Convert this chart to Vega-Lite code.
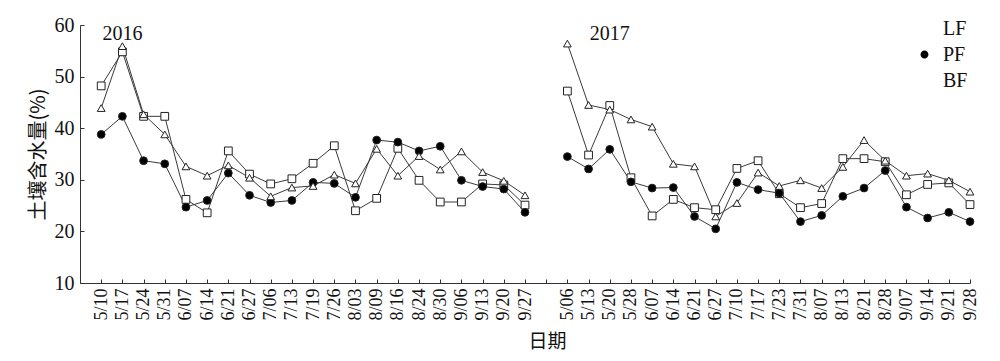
{
  "$schema": "https://vega.github.io/schema/vega-lite/v6.json",
  "autosize": {"type": "none"},
  "padding": {"left": 80, "top": 25, "right": 30, "bottom": 78},
  "width": 890,
  "height": 258,
  "background": "white",
  "config": {
    "view": {"stroke": null},
    "font": "Liberation Serif"
  },
  "datasets": {
    "soil": [
      {"x": "2016 5/10", "year": 2016, "LF": 48.2, "PF": 38.8, "BF": 43.9},
      {"x": "2016 5/17", "year": 2016, "LF": 54.8, "PF": 42.3, "BF": 55.9},
      {"x": "2016 5/24", "year": 2016, "LF": 42.3, "PF": 33.7, "BF": 42.7},
      {"x": "2016 5/31", "year": 2016, "LF": 42.3, "PF": 33.1, "BF": 38.8},
      {"x": "2016 6/07", "year": 2016, "LF": 26.2, "PF": 24.7, "BF": 32.6},
      {"x": "2016 6/14", "year": 2016, "LF": 23.6, "PF": 26.0, "BF": 30.8},
      {"x": "2016 6/21", "year": 2016, "LF": 35.6, "PF": 31.3, "BF": 32.8},
      {"x": "2016 6/27", "year": 2016, "LF": 31.1, "PF": 27.0, "BF": 30.4},
      {"x": "2016 7/06", "year": 2016, "LF": 29.2, "PF": 25.6, "BF": 26.8},
      {"x": "2016 7/13", "year": 2016, "LF": 30.2, "PF": 26.0, "BF": 28.5},
      {"x": "2016 7/19", "year": 2016, "LF": 33.2, "PF": 29.5, "BF": 28.8},
      {"x": "2016 7/26", "year": 2016, "LF": 36.6, "PF": 29.3, "BF": 31.0},
      {"x": "2016 8/03", "year": 2016, "LF": 24.0, "PF": 26.6, "BF": 29.3},
      {"x": "2016 8/09", "year": 2016, "LF": 26.4, "PF": 37.7, "BF": 36.0},
      {"x": "2016 8/16", "year": 2016, "LF": 36.1, "PF": 37.3, "BF": 30.8},
      {"x": "2016 8/24", "year": 2016, "LF": 29.9, "PF": 35.6, "BF": 34.6},
      {"x": "2016 8/30", "year": 2016, "LF": 25.7, "PF": 36.5, "BF": 32.0},
      {"x": "2016 9/06", "year": 2016, "LF": 25.7, "PF": 29.9, "BF": 35.5},
      {"x": "2016 9/13", "year": 2016, "LF": 29.2, "PF": 28.7, "BF": 31.5},
      {"x": "2016 9/20", "year": 2016, "LF": 29.0, "PF": 28.2, "BF": 29.8},
      {"x": "2016 9/27", "year": 2016, "LF": 25.1, "PF": 23.7, "BF": 27.0},
      {"x": "2017 5/06", "year": 2017, "LF": 47.2, "PF": 34.5, "BF": 56.4},
      {"x": "2017 5/13", "year": 2017, "LF": 34.8, "PF": 32.1, "BF": 44.5},
      {"x": "2017 5/20", "year": 2017, "LF": 44.4, "PF": 35.9, "BF": 43.6},
      {"x": "2017 5/28", "year": 2017, "LF": 30.4, "PF": 29.6, "BF": 41.7},
      {"x": "2017 6/07", "year": 2017, "LF": 23.0, "PF": 28.4, "BF": 40.3},
      {"x": "2017 6/14", "year": 2017, "LF": 26.2, "PF": 28.5, "BF": 33.1},
      {"x": "2017 6/21", "year": 2017, "LF": 24.6, "PF": 22.9, "BF": 32.6},
      {"x": "2017 6/27", "year": 2017, "LF": 24.2, "PF": 20.5, "BF": 22.9},
      {"x": "2017 7/10", "year": 2017, "LF": 32.2, "PF": 29.5, "BF": 25.5},
      {"x": "2017 7/17", "year": 2017, "LF": 33.7, "PF": 28.1, "BF": 31.4},
      {"x": "2017 7/23", "year": 2017, "LF": 27.3, "PF": 27.4, "BF": 28.8},
      {"x": "2017 7/31", "year": 2017, "LF": 24.6, "PF": 21.9, "BF": 29.9},
      {"x": "2017 8/07", "year": 2017, "LF": 25.4, "PF": 23.1, "BF": 28.4},
      {"x": "2017 8/13", "year": 2017, "LF": 34.1, "PF": 26.8, "BF": 32.5},
      {"x": "2017 8/21", "year": 2017, "LF": 34.1, "PF": 28.4, "BF": 37.7},
      {"x": "2017 8/28", "year": 2017, "LF": 33.5, "PF": 31.8, "BF": 33.7},
      {"x": "2017 9/07", "year": 2017, "LF": 27.1, "PF": 24.7, "BF": 30.8},
      {"x": "2017 9/14", "year": 2017, "LF": 29.1, "PF": 22.6, "BF": 31.2},
      {"x": "2017 9/21", "year": 2017, "LF": 29.4, "PF": 23.7, "BF": 29.9},
      {"x": "2017 9/28", "year": 2017, "LF": 25.2, "PF": 21.9, "BF": 27.7}
    ],
    "years": [
      {"x": "2016 5/17", "v": 58.3, "t": "2016"},
      {"x": "2017 5/20", "v": 58.3, "t": "2017"}
    ]
  },
  "encoding": {
    "x": {
      "field": "x",
      "type": "ordinal",
      "scale": {
        "type": "point",
        "padding": 0,
        "domain": ["_a", "2016 5/10", "2016 5/17", "2016 5/24", "2016 5/31", "2016 6/07", "2016 6/14", "2016 6/21", "2016 6/27", "2016 7/06", "2016 7/13", "2016 7/19", "2016 7/26", "2016 8/03", "2016 8/09", "2016 8/16", "2016 8/24", "2016 8/30", "2016 9/06", "2016 9/13", "2016 9/20", "2016 9/27", "_b", "2017 5/06", "2017 5/13", "2017 5/20", "2017 5/28", "2017 6/07", "2017 6/14", "2017 6/21", "2017 6/27", "2017 7/10", "2017 7/17", "2017 7/23", "2017 7/31", "2017 8/07", "2017 8/13", "2017 8/21", "2017 8/28", "2017 9/07", "2017 9/14", "2017 9/21", "2017 9/28"]
      },
      "axis": {
        "title": "日期",
        "titleFont": "Noto Sans CJK SC",
        "titleFontSize": 19,
        "titleFontWeight": "normal",
        "titleColor": "#111",
        "titleX": 467,
        "titleY": 58,
        "titleBaseline": "middle",
        "labelExpr": "indexof(datum.value, '_') == 0 ? '' : slice(datum.value, 5)",
        "labelAngle": -90,
        "labelFontSize": 18,
        "labelColor": "#111",
        "labelPadding": 9,
        "tickSize": -4,
        "tickColor": "#333",
        "domainColor": "#333",
        "grid": false
      }
    }
  },
  "layer": [
    {
      "data": {"name": "soil"},
      "transform": [{"fold": ["LF", "PF", "BF"], "as": ["s", "v"]}],
      "mark": {"type": "line", "strokeWidth": 1, "color": "#3a3a3a"},
      "encoding": {
        "y": {
          "field": "v",
          "type": "quantitative",
          "scale": {"domain": [10, 60], "nice": false, "zero": false},
          "axis": {
            "title": "土壤含水量(%)",
            "titleFont": "Noto Sans CJK SC",
            "titleFontSize": 20,
            "titleFontWeight": "normal",
            "titleColor": "#111",
            "titlePadding": 6,
            "values": [10, 20, 30, 40, 50, 60],
            "labelFontSize": 20,
            "labelColor": "#111",
            "labelPadding": 10,
            "tickSize": -4,
            "tickColor": "#333",
            "domainColor": "#333",
            "grid": false
          }
        },
        "detail": [{"field": "s", "type": "nominal"}, {"field": "year", "type": "nominal"}]
      }
    },
    {
      "data": {"name": "soil"},
      "transform": [{"fold": ["LF", "PF", "BF"], "as": ["s", "v"]}],
      "mark": {"type": "point", "filled": false, "stroke": "#222", "strokeWidth": 1, "opacity": 1, "size": 60},
      "encoding": {
        "y": {"field": "v", "type": "quantitative"},
        "shape": {
          "field": "s",
          "type": "nominal",
          "scale": {"domain": ["LF", "PF", "BF"], "range": ["square", "circle", "triangle-up"]},
          "legend": null
        },
        "fill": {
          "field": "s",
          "type": "nominal",
          "scale": {"domain": ["LF", "PF", "BF"], "range": ["white", "black", "white"]},
          "legend": null
        }
      }
    },
    {
      "data": {"name": "soil"},
      "transform": [{"fold": ["LF", "PF", "BF"], "as": ["s", "v"]}, {"filter": "datum.v < 0"}],
      "mark": {"type": "point", "filled": false, "stroke": "#333", "strokeWidth": 1, "opacity": 1, "size": 576},
      "encoding": {
        "y": {"field": "v", "type": "quantitative"},
        "shape": {
          "field": "s",
          "type": "nominal",
          "scale": {
            "domain": ["LF", "PF", "BF"],
            "range": [
              "M-1,0H-0.33M-0.33,-0.33H0.33V0.33H-0.33ZM0.33,0H1",
              "M-1,0H-0.33M0.33,0A0.33,0.33 0 1,1 -0.33,0A0.33,0.33 0 1,1 0.33,0ZM0.33,0H1",
              "M-1,0H-0.42M0,-0.42L0.42,0.3H-0.42ZM0.42,0H1"
            ]
          },
          "legend": {
            "title": null,
            "orient": "none",
            "legendX": 832,
            "legendY": -9,
            "symbolSize": 576,
            "symbolStrokeColor": "#333",
            "symbolStrokeWidth": 1,
            "labelFontSize": 20,
            "labelColor": "#111",
            "labelOffset": 6,
            "rowPadding": 3,
            "encode": {
              "symbols": {
                "update": {
                  "fill": {"signal": "datum.value == 'PF' ? 'black' : 'white'"},
                  "stroke": {"value": "#333"},
                  "strokeWidth": {"value": 1}
                }
              }
            }
          }
        },
        "fill": {
          "field": "s",
          "type": "nominal",
          "scale": {"domain": ["LF", "PF", "BF"], "range": ["white", "black", "white"]},
          "legend": null
        }
      }
    },
    {
      "data": {"name": "years"},
      "mark": {"type": "text", "fontSize": 20, "font": "Liberation Serif", "color": "#111", "baseline": "middle", "align": "center"},
      "encoding": {
        "y": {"field": "v", "type": "quantitative"},
        "text": {"field": "t"}
      }
    }
  ],
  "resolve": {"scale": {"shape": "independent", "fill": "independent"}}
}
